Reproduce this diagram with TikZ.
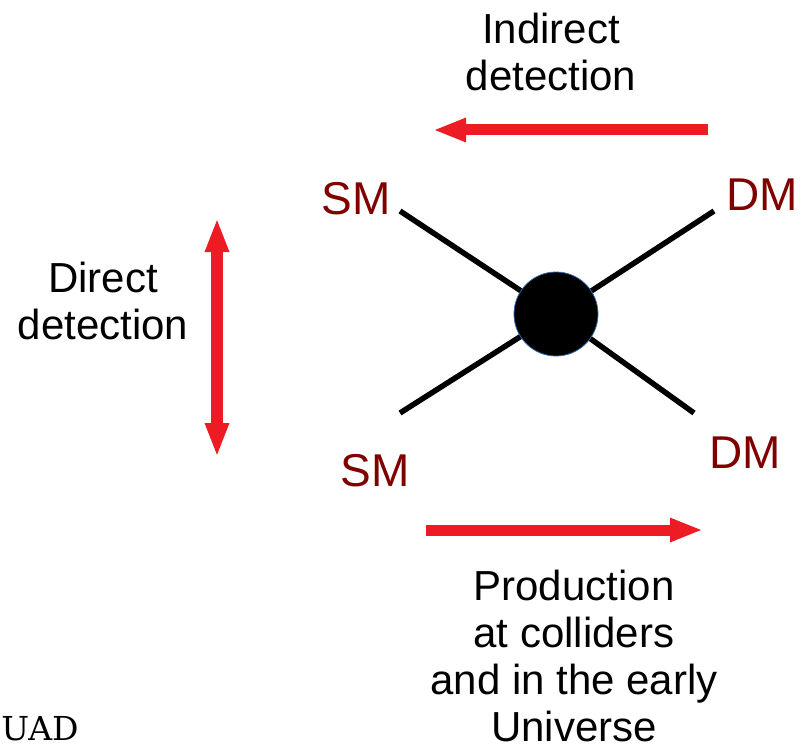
\documentclass[tikz,border=0pt]{standalone}
\usepackage{fontspec}
\setmainfont{Liberation Sans}
\newfontfamily\uadfont{DejaVu Serif}
\usetikzlibrary{arrows.meta}
\definecolor{arrred}{HTML}{ED1C24}
\definecolor{smred}{HTML}{800000}
\definecolor{rimblue}{HTML}{3465A4}
\begin{document}
\begin{tikzpicture}[x=1pt,y=-1pt,
  lbl/.style={text=black,font=\fontsize{42}{47}\selectfont,align=center,inner sep=0pt},
  part/.style={text=smred,font=\fontsize{46}{52}\selectfont,inner sep=0pt},
  leg/.style={line width=5.5pt,black},
  bigarrow/.style={draw=arrred,line width=11pt,-{Triangle[length=33pt,width=22pt]}},
  dblarrow/.style={draw=arrred,line width=12pt,{Triangle[length=34pt,width=22pt]}-{Triangle[length=34pt,width=22pt]}}]
\useasboundingbox (0,0) rectangle (802,746);
% legs
\coordinate (v) at (556,314);
\coordinate (tl) at (400,211);
\coordinate (tr) at (714,211);
\coordinate (bl) at (400,413);
\coordinate (br) at (694,413);
\draw[leg] (tl) -- (v);
\draw[leg] (tr) -- (v);
\draw[leg] (bl) -- (v);
\draw[leg] (br) -- (v);
\node[circle,fill=black,draw=rimblue,line width=0.8pt,minimum size=84pt,inner sep=0pt] (blob) at (v) {};
% labels
\node[part] (sm1) at (356,199) {SM};
\node[part] (dm1) at (762,195) {DM};
\node[part] (sm2) at (375,471) {SM};
\node[part] (dm2) at (745,453) {DM};
% arrows
\coordinate (ia) at (708,130);
\coordinate (ib) at (433,130);
\draw[bigarrow] (ia) -- (ib);
\coordinate (pa) at (426,530);
\coordinate (pb) at (703,530);
\draw[bigarrow] (pa) -- (pb);
\coordinate (da) at (217,218);
\coordinate (db) at (217,457);
\draw[dblarrow] (da) -- (db);
% texts
\node[lbl] (ind) at (551,52) {Indirect\\detection};
\node[lbl] (dir) at (103,301) {Direct\\detection};
\node[lbl] (prod) at (574,656) {Production\\at colliders\\and in the early\\Universe};
\node[inner sep=0pt,font=\uadfont\fontsize{33}{38}\selectfont] (uad) at (40,729) {UAD};
\end{tikzpicture}
\end{document}
